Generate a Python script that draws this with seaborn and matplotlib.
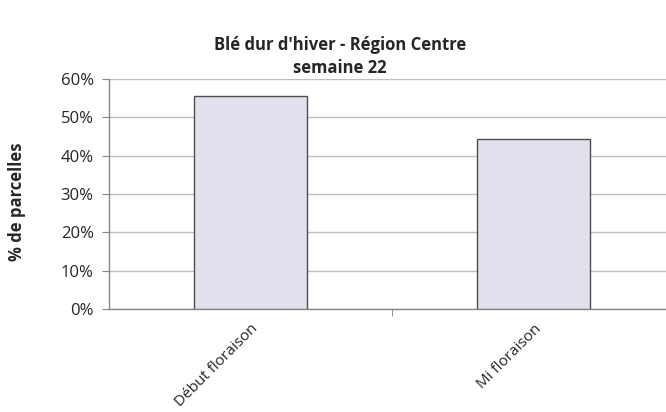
import matplotlib
matplotlib.use("Agg")
import matplotlib.pyplot as plt
import seaborn as sns
import pandas as pd
from matplotlib.ticker import PercentFormatter, FixedLocator

# Data
stades = ["Début floraison", "Mi floraison"]
parcelles = [55.6, 44.4]

df = pd.DataFrame({"stade": stades, "pct": parcelles})

sns.set_style("white")
plt.rcParams["font.family"] = ["Open Sans", "DejaVu Sans"]

fig = plt.figure(figsize=(6.66, 4.12), dpi=100)
ax = fig.add_axes([109 / 666, 103 / 412, 566 / 666, 230 / 412])

sns.barplot(data=df, x="stade", y="pct", color="#E4DFEC", width=0.4,
            edgecolor="#4D4D4D", linewidth=1.0, saturation=1, ax=ax, zorder=3)

ax.set_ylim(0, 60)
ax.set_yticks(range(0, 61, 10))
ax.yaxis.set_major_formatter(PercentFormatter(decimals=0))
ax.set_xlim(-0.5, 1.5)
ax.grid(axis="y", color="#BEBEBE", linewidth=1.0, zorder=0)
ax.set_axisbelow(True)

for side in ["top", "right"]:
    ax.spines[side].set_visible(False)
for side in ["left", "bottom"]:
    ax.spines[side].set_color("#868686")
    ax.spines[side].set_linewidth(1.0)

ax.tick_params(axis="y", length=5, color="#868686", labelsize=12, pad=6, left=True)
ax.tick_params(axis="x", length=0, labelsize=11, pad=9)
ax.xaxis.set_minor_locator(FixedLocator([0.5]))
ax.tick_params(axis="x", which="minor", length=5, color="#868686", bottom=True)

ax.set_xlabel("")
ax.set_ylabel("% de parcelles", fontsize=12, fontweight="bold")
ax.yaxis.set_label_coords(-0.147, 0.465)
plt.setp(ax.get_xticklabels(), rotation=45, ha="right", rotation_mode="anchor")

fig.text(340 / 666, 1 - 45 / 412, "Blé dur d'hiver - Région Centre",
         ha="center", va="center", fontsize=12, fontweight="bold")
fig.text(340 / 666, 1 - 68 / 412, "semaine 22",
         ha="center", va="center", fontsize=12, fontweight="bold")

fig.savefig("out.png", dpi=100)
